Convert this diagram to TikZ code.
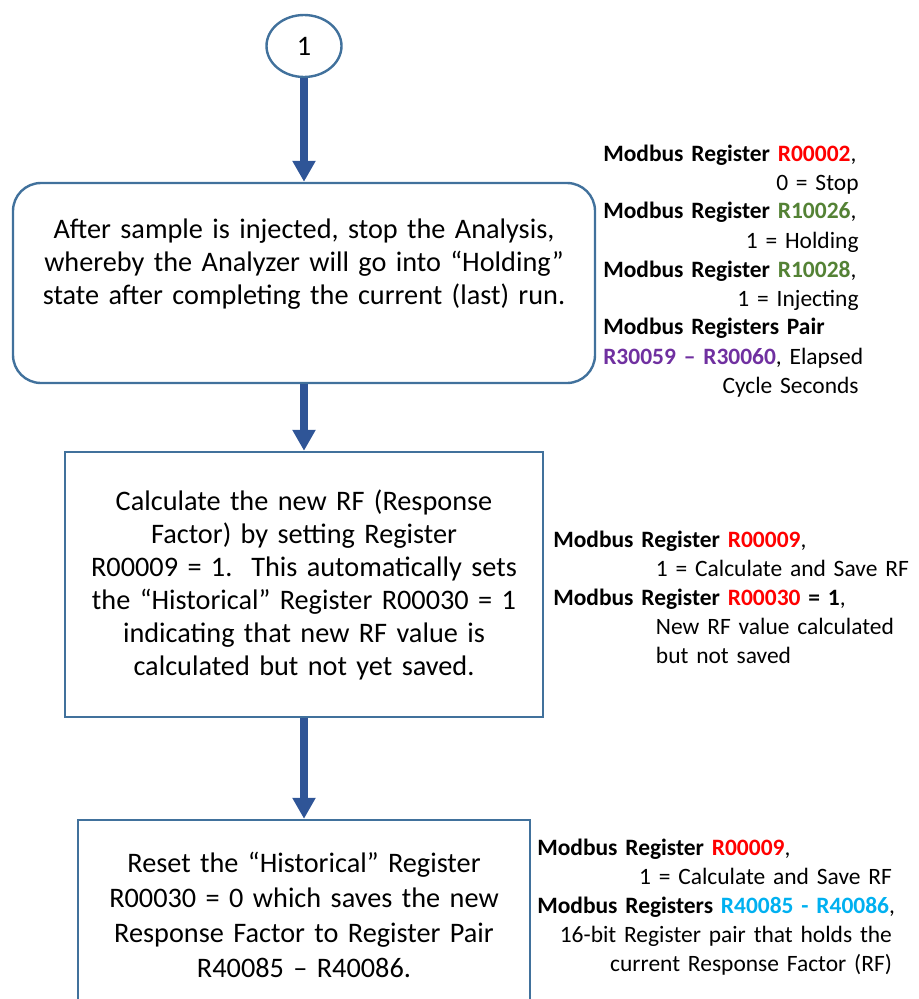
\documentclass[tikz,border=0pt]{standalone}
\usepackage{fontspec}
\setmainfont{Carlito}
\usetikzlibrary{shapes.geometric, arrows.meta}
\setlength{\parindent}{0pt}
\definecolor{boxline}{HTML}{41719C}
\definecolor{arrowblue}{HTML}{2F5597}
\definecolor{regred}{HTML}{FF0000}
\definecolor{reggreen}{HTML}{548235}
\definecolor{regpurple}{HTML}{7030A0}
\definecolor{regcyan}{HTML}{00B0F0}
\begin{document}
\begin{tikzpicture}[
		x = 0.75pt, y = -0.75pt,
		every node/.style = {
			font = \fontsize{21.2pt}{24.75pt}\selectfont
		},
		procbox/.style = {
			draw = boxline,
			line width = 1.8pt,
			align = center,
			inner sep = 0pt
		},
		notes/.style = {
			font = \fontsize{17.6pt}{21.75pt}\selectfont,
			align = left,
			anchor = base west,
			inner sep = 0pt
		},
		flow/.style = {
			draw = arrowblue,
			line width = 5.6pt,
			-{Triangle[width = 16.5pt, length = 15.75pt]}
		}]
	\useasboundingbox (0, 0) rectangle (919, 999);
	\clip (0, 0) rectangle (919, 999);
	\node[procbox, ellipse, minimum width = 56.25pt, minimum height = 46.5pt] (start) at (304, 46) {1};
	\node[procbox, rounded corners = 21pt, minimum width = 436.5pt, minimum height = 150pt] (stop) at (304, 283) {};
	\node[align = center, text width = 420pt, inner sep = 0pt] (stoptext) at (304, 264) {After sample is injected, stop the Analysis,\\ whereby the Analyzer will go into “Holding”\\ state after completing the current (last) run.};
	\node[procbox, minimum width = 358.5pt, minimum height = 198.75pt, text width = 345pt] (calc) at (304, 584.5) {Calculate the new RF (Response\\ Factor) by setting Register\\ R00009 = 1.\ \ This automatically sets\\ the “Historical” Register R00030 = 1\\ indicating that new RF value is\\ calculated but not yet saved.};
	\node[procbox, minimum width = 339pt, minimum height = 142.5pt, text width = 330pt, font = \fontsize{21.2pt}{26.25pt}\selectfont] (reset) at (304, 915) {Reset the “Historical” Register\\ R00030 = 0 which saves the new\\ Response Factor to Register Pair\\ R40085 – R40086.};
	\draw[flow] (start) -- (stop);
	\draw[flow] (stop) -- (calc);
	\draw[flow] (calc) -- (reset);
	\node[notes, text width = 191.5pt] (stopnote) at (603, 161) {\mbox{\textbf{Modbus Register \textcolor{regred}{R00002}},}\\ \hspace*{\fill}0 = Stop\\ \mbox{\textbf{Modbus Register \textcolor{reggreen}{R10026}},}\\ \hspace*{\fill}1 = Holding\\ \mbox{\textbf{Modbus Register \textcolor{reggreen}{R10028}},}\\ \hspace*{\fill}1 = Injecting\\ \textbf{Modbus Registers Pair}\\ \mbox{\textbf{\textcolor{regpurple}{R30059 – R30060}}, Elapsed}\\ \hspace*{\fill}Cycle Seconds};
	\node[notes, text width = 275pt] (calcnote) at (553, 547) {\mbox{\textbf{Modbus Register \textcolor{regred}{R00009}},}\\ \hspace*{77pt}\mbox{1 = Calculate and Save RF}\\ \mbox{\textbf{Modbus Register \textcolor{regred}{R00030} = 1},}\\ \hspace*{77pt}New RF value calculated\\ \hspace*{77pt}but not saved};
	\node[notes, text width = 266pt] (resetnote) at (537, 855) {\mbox{\textbf{Modbus Register \textcolor{regred}{R00009}},}\\ \hspace*{\fill}1 = Calculate and Save RF\\ \mbox{\textbf{Modbus Registers \textcolor{regcyan}{R40085 - R40086}},}\\ \hspace*{\fill}16-bit Register pair that holds the\\ \hspace*{\fill}current Response Factor (RF)};
\end{tikzpicture}
\end{document}
